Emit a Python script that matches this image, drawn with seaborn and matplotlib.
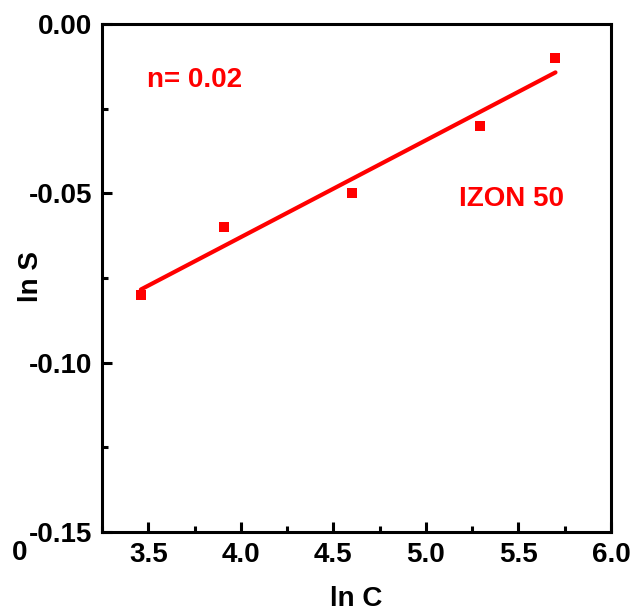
import numpy as np
import pandas as pd
import matplotlib
matplotlib.use("Agg")
import matplotlib.pyplot as plt
from matplotlib.ticker import MultipleLocator
import seaborn as sns

# ln C vs ln S for IZON 50
ln_c = [3.46, 3.91, 4.60, 5.29, 5.70]
ln_s = [-0.08, -0.06, -0.05, -0.03, -0.01]
x_ticks = [3.5, 4.0, 4.5, 5.0, 5.5, 6.0]
y_ticks = [0.00, -0.05, -0.10, -0.15]
slope_label = "n= 0.02"
sample_label = "IZON 50"

df = pd.DataFrame({"lnC": ln_c, "lnS": ln_s})

sns.set_theme(style="ticks")
plt.rcParams["font.family"] = ["Liberation Sans", "DejaVu Sans"]
plt.rcParams["font.weight"] = "bold"
plt.rcParams["text.color"] = "black"
plt.rcParams["axes.labelcolor"] = "black"
plt.rcParams["xtick.color"] = "black"
plt.rcParams["ytick.color"] = "black"

fig = plt.figure(figsize=(6.32, 6.16), dpi=100)
ax = fig.add_axes([102 / 632, 1 - 532 / 616, (611 - 102) / 632, (532 - 24) / 616])

sns.regplot(data=df, x="lnC", y="lnS", ax=ax, ci=None, truncate=True,
            marker="s", color="#ff0000",
            scatter_kws={"s": 42, "linewidths": 0, "alpha": 1},
            line_kws={"lw": 3.0})

ax.set_xlim(3.25, 6.0)
ax.set_ylim(-0.15, 0.0)
ax.set_xticks(x_ticks)
ax.set_yticks(y_ticks)
ax.set_xticklabels([f"{v:.1f}" for v in x_ticks])
ax.set_yticklabels([f"{v:.2f}" for v in y_ticks])
ax.xaxis.set_minor_locator(MultipleLocator(0.25))
ax.yaxis.set_minor_locator(MultipleLocator(0.025))

for s in ax.spines.values():
    s.set_linewidth(2.2)
    s.set_color("black")
ax.tick_params(which="major", direction="in", length=7, width=2.2,
               labelsize=20, pad=7, top=False, right=False,
               colors="black", labelcolor="black")
ax.tick_params(which="minor", direction="in", length=4, width=2.2,
               top=False, right=False, colors="black")
for lab in ax.get_xticklabels() + ax.get_yticklabels():
    lab.set_fontweight("bold")

ax.set_xlabel("ln C", fontsize=20, fontweight="bold", va="center", color="black")
ax.set_ylabel("ln S", fontsize=20, fontweight="bold", va="center", color="black")
ax.xaxis.set_label_coords(0.5, -0.132)
ax.yaxis.set_label_coords(-0.14, 0.502)

ax.text(3.493, -0.0165, slope_label, color="#ff0000", fontsize=20,
        fontweight="bold", va="center", ha="left")
ax.text(5.178, -0.0517, sample_label, color="#ff0000", fontsize=20,
        fontweight="bold", va="center", ha="left")

fig.text(20 / 632, 1 - 553 / 616, "0", fontsize=20, fontweight="bold",
         ha="center", va="center", color="black")

fig.savefig("out.png", dpi=100, facecolor="white")
